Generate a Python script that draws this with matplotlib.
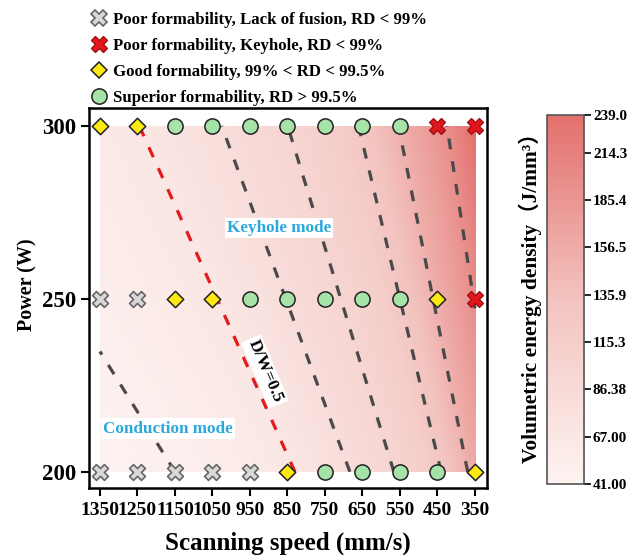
import numpy as np
import matplotlib
matplotlib.use('Agg')
import matplotlib.pyplot as plt
from matplotlib.colors import LinearSegmentedColormap, FuncNorm
from matplotlib.lines import Line2D

plt.rcParams['font.family'] = ['Liberation Serif', 'Noto Sans CJK SC', 'DejaVu Sans']
plt.rcParams['font.weight'] = 'bold'
plt.rcParams['axes.labelweight'] = 'bold'
plt.rcParams['mathtext.default'] = 'bf'

# ---------------- data ----------------
speeds = [1350, 1250, 1150, 1050, 950, 850, 750, 650, 550, 450, 350]
powers = [200, 250, 300]
# L = lack of fusion, K = keyhole, G = good, S = superior
quality_200 = ['L', 'L', 'L', 'L', 'L', 'G', 'S', 'S', 'S', 'S', 'G']
quality_250 = ['L', 'L', 'G', 'G', 'S', 'S', 'S', 'S', 'S', 'G', 'K']
quality_300 = ['G', 'G', 'S', 'S', 'S', 'S', 'S', 'S', 'S', 'K', 'K']

ved_factor = 0.003586          # hatch x layer (mm^2): VED = P / (v * factor)
cbar_ticks = [41.00, 67.00, 86.38, 115.3, 135.9, 156.5, 185.4, 214.3, 239.0]
cbar_tick_labels = ['41.00', '67.00', '86.38', '115.3', '135.9', '156.5', '185.4', '214.3', '239.0']
cbar_frac = [0.0, 0.127, 0.2575, 0.385, 0.512, 0.642, 0.770, 0.897, 1.0]
iso_levels = [48.5, 81.6, 98.5, 126.7, 151.0, 197.0]
dw_level = [67.2]

legend_labels = {
    'L': 'Poor formability, Lack of fusion, RD < 99%',
    'K': 'Poor formability, Keyhole, RD < 99%',
    'G': 'Good formability, 99% < RD < 99.5%',
    'S': 'Superior formability, RD > 99.5%',
}

# ---------------- styles ----------------
styles = {
    'L': dict(marker='X', s=130, facecolor='#d8d8d8', edgecolor='#666666', linewidths=1.2),
    'K': dict(marker='X', s=130, facecolor='#e3161e', edgecolor='#a01015', linewidths=1.0),
    'G': dict(marker='D', s=70, facecolor='#fbe911', edgecolor='#222222', linewidths=1.1),
    'S': dict(marker='o', s=120, facecolor='#a5e3a9', edgecolor='#222222', linewidths=1.1),
}

cmap = LinearSegmentedColormap.from_list('ved', ['#fdf3f1', '#f3c3bf', '#e3706d'])


def fwd(v):
    return np.interp(v, cbar_ticks, cbar_frac)


def inv(f):
    return np.interp(f, cbar_frac, cbar_ticks)


norm = FuncNorm((fwd, inv), vmin=cbar_ticks[0], vmax=cbar_ticks[-1])

fig = plt.figure(figsize=(6.29, 5.55), dpi=100)
ax = fig.add_axes([0.1415, 0.1207, 0.6327, 0.6847])

sp = np.linspace(min(speeds), max(speeds), 500)
pw = np.linspace(min(powers), max(powers), 250)
V = pw[:, None] / (sp[None, :] * ved_factor)

im = ax.imshow(V, extent=[min(speeds), max(speeds), min(powers), max(powers)],
               origin='lower', cmap=cmap, norm=norm, aspect='auto',
               interpolation='bilinear', zorder=0)

ax.contour(sp, pw, V, levels=iso_levels, colors='#4a4a4a',
           linewidths=2.3, linestyles=[(0, (3.4, 3.8))], zorder=1)
ax.contour(sp, pw, V, levels=dw_level, colors='#e4191c',
           linewidths=2.3, linestyles=[(0, (3.4, 3.8))], zorder=1)

for pval, row in zip(powers, [quality_200, quality_250, quality_300]):
    for code in ['L', 'K', 'G', 'S']:
        xs = [s for s, q in zip(speeds, row) if q == code]
        if xs:
            ax.scatter(xs, [pval] * len(xs), zorder=3, clip_on=False, **styles[code])

ax.text(873, 270.5, 'Keyhole mode', color='#2aa7dc', fontsize=12.3, fontweight='bold',
        ha='center', va='center', bbox=dict(facecolor='white', edgecolor='none', pad=1.5), zorder=2)
ax.text(1169, 212.5, 'Conduction mode', color='#2aa7dc', fontsize=12.3, fontweight='bold',
        ha='center', va='center', bbox=dict(facecolor='white', edgecolor='none', pad=1.5), zorder=2)
ax.text(910, 229, 'D/W=0.5', color='black', fontsize=12.5, fontweight='bold',
        ha='center', va='center', rotation=-67,
        bbox=dict(facecolor='white', edgecolor='none', pad=2.0), zorder=2)

ax.set_xlim(1379, 318)
ax.set_ylim(195.3, 305.2)
ax.set_xticks(speeds)
ax.set_xticklabels([str(s) for s in speeds], fontsize=14, fontweight='bold')
ax.set_yticks(powers)
ax.set_yticklabels([str(p) for p in powers], fontsize=16.5, fontweight='bold')
ax.tick_params(axis='both', direction='out', length=6, width=1.5, pad=3)
ax.tick_params(axis='x', pad=4)
for sp_ in ax.spines.values():
    sp_.set_linewidth(1.8)
ax.set_xlabel('Scanning speed (mm/s)', fontsize=18, fontweight='bold', labelpad=9)
ax.set_ylabel('Power (W)', fontsize=14.5, fontweight='bold')
ax.yaxis.set_label_coords(-0.13, 0.536)

# legend
handles = []
for code in ['L', 'K', 'G', 'S']:
    st = styles[code]
    ms = 11 if st['marker'] != 'D' else 8.2
    handles.append(Line2D([], [], linestyle='none', marker=st['marker'], markersize=ms,
                          markerfacecolor=st['facecolor'], markeredgecolor=st['edgecolor'],
                          markeredgewidth=st['linewidths']))
fig.legend(handles, [legend_labels[c] for c in ['L', 'K', 'G', 'S']],
           loc='upper left', bbox_to_anchor=(0.122, 1.0), frameon=False,
           prop=dict(family=['Liberation Serif'], weight='bold', size=12.1),
           handletextpad=0.15, labelspacing=0.6, handlelength=1.3, borderaxespad=0.3)

# colorbar
cax = fig.add_axes([0.8696, 0.1279, 0.0588, 0.665])
cb = fig.colorbar(im, cax=cax)
cb.set_ticks(cbar_ticks)
cb.set_ticklabels(cbar_tick_labels)
cb.ax.tick_params(labelsize=11, length=5, width=1.2, direction='out', pad=1.5)
for lab in cb.ax.get_yticklabels():
    lab.set_fontweight('bold')
cb.outline.set_linewidth(1.2)
cb.outline.set_edgecolor('#555555')
cb.ax.yaxis.set_ticks_position('right')
fig.text(0.843, 0.472, 'Volumetric energy density（J/mm³）', rotation=90, fontsize=15.4,
         fontweight='bold', ha='center', va='center',
         family=['Liberation Serif', 'Noto Sans CJK SC'])

fig.savefig('out.png', dpi=100)
